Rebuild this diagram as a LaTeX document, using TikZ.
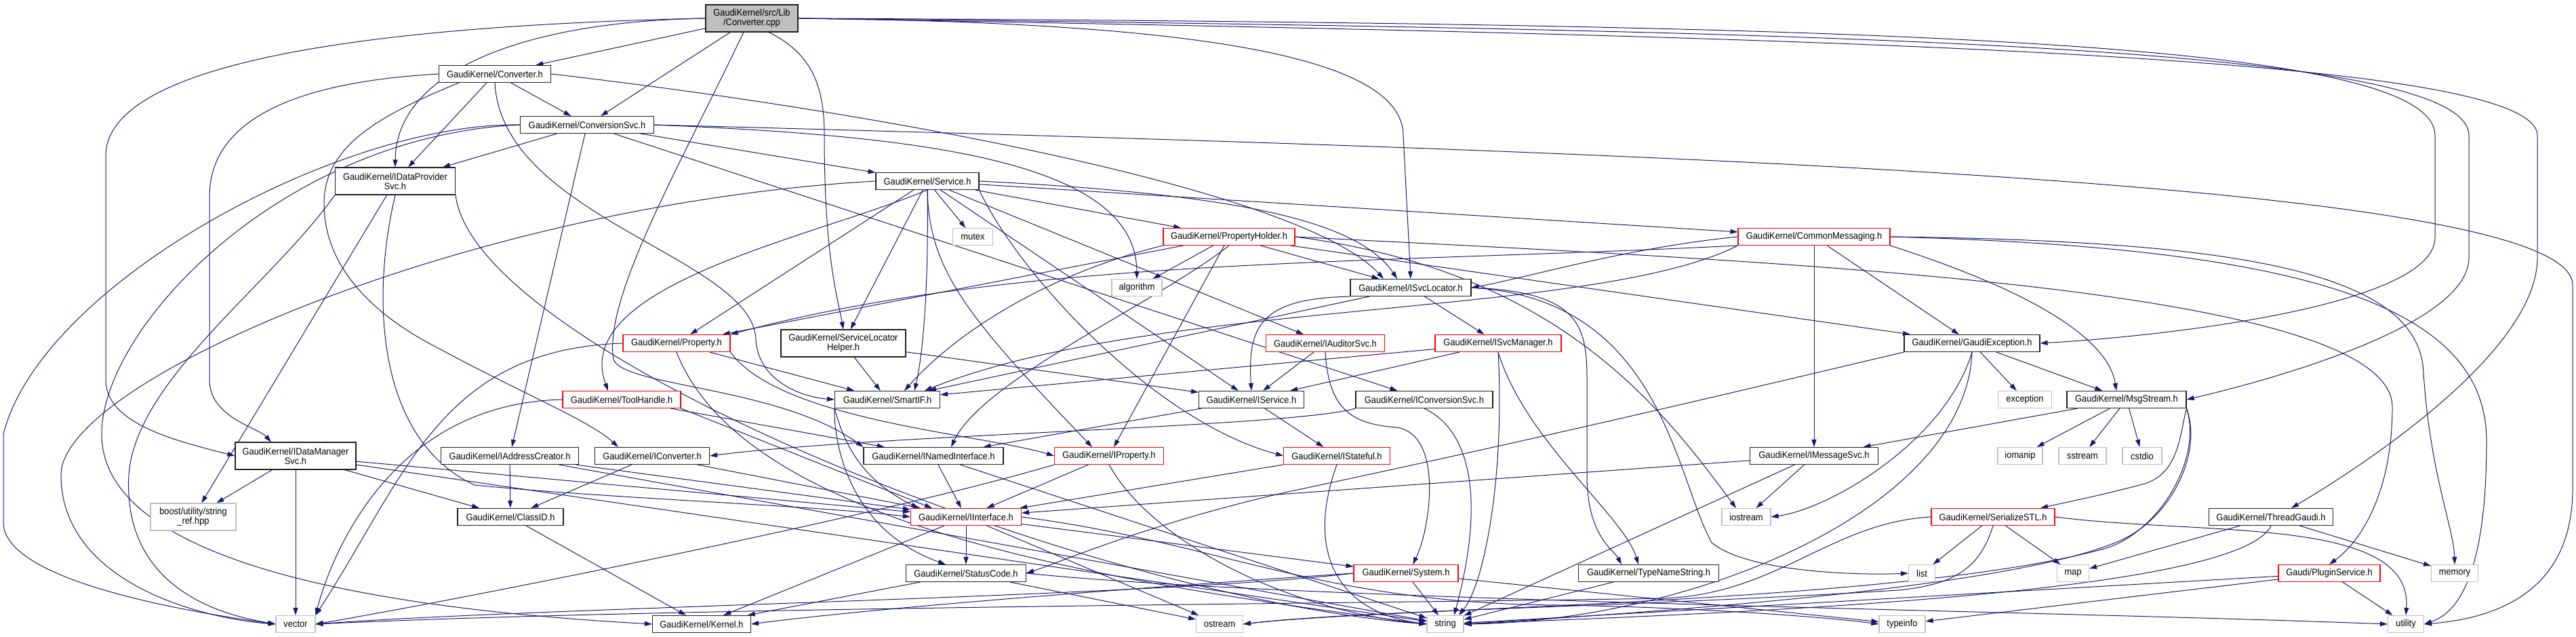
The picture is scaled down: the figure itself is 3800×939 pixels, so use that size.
\documentclass[tikz,border=0pt]{standalone}
\usepackage{fontspec}
\setmainfont{Liberation Sans}[FakeStretch=0.92]
\usetikzlibrary{arrows.meta,calc}
\definecolor{edgec}{HTML}{191970}
\definecolor{greyb}{HTML}{BFBFBF}
\definecolor{redb}{HTML}{FF0000}
\definecolor{boxk}{HTML}{202020}
\pgfdeclarelayer{bg}
\pgfsetlayers{bg,main}
\begin{document}
\begin{tikzpicture}[x=1pt,y=-1pt,
 nd/.style={rectangle,draw=boxk,line width=1.1pt,fill=white,inner sep=1pt,minimum height=25pt,align=center,font=\fontsize{14}{14}\selectfont},
 ng/.style={nd,draw=greyb},
 nr/.style={nd,draw=redb},
 nt/.style={minimum height=40pt},
 ed/.style={draw=edgec,line width=1pt,-{Triangle[length=11pt,width=7pt]}}]
\useasboundingbox (0,0) rectangle (3800,939);
% nodes
\node[nd,nt,fill=greyb,minimum width=136pt] (root) at (1109,27) {GaudiKernel/src/Lib\\/Converter.cpp};
\node[nd,minimum width=165pt] (conv) at (730,109) {GaudiKernel/Converter.h};
\node[nd,minimum width=197pt] (csvc) at (866,184) {GaudiKernel/ConversionSvc.h};
\node[nd,nt,minimum width=177pt] (idp) at (583,267) {GaudiKernel/IDataProvider\\Svc.h};
\node[nd,minimum width=152pt] (svc) at (1368,267) {GaudiKernel/Service.h};
\node[ng,minimum width=59pt] (mutex) at (1435,349) {mutex};
\node[nr,minimum width=194pt] (pholder) at (1813,349) {GaudiKernel/PropertyHolder.h};
\node[nr,minimum width=224pt] (cmsg) at (2676,349) {GaudiKernel/CommonMessaging.h};
\node[ng,minimum width=74pt] (algorithm) at (1677,424) {algorithm};
\node[nd,minimum width=178pt] (isl) at (2081,424) {GaudiKernel/ISvcLocator.h};
\node[nr,minimum width=158pt] (prop) at (998,506) {GaudiKernel/Property.h};
\node[nd,nt,minimum width=184pt] (slh) at (1244,506) {GaudiKernel/ServiceLocator\\Helper.h};
\node[nr,minimum width=175pt] (iaud) at (1955,506) {GaudiKernel/IAuditorSvc.h};
\node[nr,minimum width=186pt] (isvcm) at (2210,506) {GaudiKernel/ISvcManager.h};
\node[nd,minimum width=200pt] (gex) at (2909,506) {GaudiKernel/GaudiException.h};
\node[nr,minimum width=174pt] (toolh) at (917,589) {GaudiKernel/ToolHandle.h};
\node[nd,minimum width=155pt] (smartif) at (1309,589) {GaudiKernel/SmartIF.h};
\node[nd,minimum width=155pt] (isvc) at (1846,589) {GaudiKernel/IService.h};
\node[nd,minimum width=202pt] (iconvsvc) at (2101,589) {GaudiKernel/IConversionSvc.h};
\node[ng,minimum width=79pt] (exception) at (2987,589) {exception};
\node[nd,minimum width=176pt] (msg) at (3137,589) {GaudiKernel/MsgStream.h};
\node[nd,nt,minimum width=178pt] (idm) at (436,672) {GaudiKernel/IDataManager\\Svc.h};
\node[nd,minimum width=203pt] (iaddr) at (752,672) {GaudiKernel/IAddressCreator.h};
\node[nd,minimum width=169pt] (iconv) at (962,672) {GaudiKernel/IConverter.h};
\node[nd,minimum width=206pt] (inamed) at (1377,672) {GaudiKernel/INamedInterface.h};
\node[nr,minimum width=161pt] (iprop) at (1636,672) {GaudiKernel/IProperty.h};
\node[nr,minimum width=157pt] (istate) at (1972,672) {GaudiKernel/IStateful.h};
\node[nd,minimum width=189pt] (imsg) at (2676,672) {GaudiKernel/IMessageSvc.h};
\node[ng,minimum width=66pt] (iomanip) at (2980,672) {iomanip};
\node[ng,minimum width=70pt] (sstream) at (3072,672) {sstream};
\node[ng,minimum width=58pt] (cstdio) at (3160,672) {cstdio};
\node[ng,nt,minimum width=126pt] (boost) at (285,762) {boost/utility/string\\\_ref.hpp};
\node[nd,minimum width=156pt] (classid) at (753,762) {GaudiKernel/ClassID.h};
\node[nr,minimum width=163pt] (iinterface) at (1425,762) {GaudiKernel/IInterface.h};
\node[ng,minimum width=72pt] (iostream) at (2576,762) {iostream};
\node[nr,minimum width=182pt] (serial) at (2940,762) {GaudiKernel/SerializeSTL.h};
\node[nd,minimum width=183pt] (thr) at (3350,762) {GaudiKernel/ThreadGaudi.h};
\node[nd,minimum width=177pt] (statuscode) at (1425,845) {GaudiKernel/StatusCode.h};
\node[nr,minimum width=154pt] (system) at (2074,845) {GaudiKernel/System.h};
\node[nd,minimum width=207pt] (typename) at (2432,845) {GaudiKernel/TypeNameString.h};
\node[ng,minimum width=39pt] (list) at (2835,845) {list};
\node[ng,minimum width=47pt] (map) at (3058,845) {map};
\node[nr,minimum width=150pt] (plugin) at (3436,845) {Gaudi/PluginService.h};
\node[ng,minimum width=69pt] (memory) at (3621,845) {memory};
\node[ng,minimum width=58pt] (vector) at (436,920) {vector};
\node[nd,minimum width=145pt] (kernel) at (1035,920) {GaudiKernel/Kernel.h};
\node[ng,minimum width=69pt] (ostream) at (1799,920) {ostream};
\node[ng,minimum width=54pt] (string) at (2132,920) {string};
\node[ng,minimum width=68pt] (typeinfo) at (2806,920) {typeinfo};
\node[ng,minimum width=53pt] (utility) at (3549,920) {utility};
\begin{pgfonlayer}{bg}
\fill[white] (0,0) rectangle (3800,939);
% root
\draw[ed] (root) -- (conv);
\draw[ed] (root) -- (csvc);
\draw[ed] (root.west) .. controls (760,32) and (584,110) .. (idp.north);
\draw[ed] (root.west) .. controls (450,40) and (156,110) .. (156,230) -- (156,560) .. controls (156,625) and (260,650) .. (idm.west);
\draw[ed] ($(root.south)+(25,0)$) .. controls (1200,80) and (1216,130) .. (1216,200) .. controls (1216,380) and (1236,440) .. (slh.north);
\draw[ed] (root.east) .. controls (1750,33) and (2070,80) .. (2070,200) -- (isl.north);
\draw[ed] (root.east) .. controls (2800,35) and (3592,60) .. (3592,200) -- (3592,350) .. controls (3592,450) and (3200,495) .. (gex.east);
\draw[ed] (root.east) .. controls (2800,45) and (3642,70) .. (3642,200) -- (3642,380) .. controls (3642,480) and (3350,560) .. (msg.east);
\draw[ed] (root.east) .. controls (2800,55) and (3743,85) .. (3743,200) -- (3743,380) .. controls (3743,520) and (3480,690) .. ($(thr.north)+(30,0)$);
\draw[ed] ($(root.south)+(-12,0)$) .. controls (1000,250) and (890,440) .. (905,530) .. controls (920,570) and (1150,570) .. (inamed.north west);
% conv
\draw[ed] (conv) -- (csvc);
\draw[ed] (conv) -- (idp);
\draw[ed] (conv.west) .. controls (450,120) and (309,170) .. (309,290) -- (309,560) .. controls (309,615) and (380,630) .. ($(idm.north)+(-36,0)$);
\draw[ed] ($(conv.south west)+(30,0)$) .. controls (560,170) and (478,215) .. (478,300) .. controls (478,400) and (560,470) .. (650,515) .. controls (760,575) and (870,620) .. ($(iconv.north)+(-50,0)$);
\draw[ed] (conv.east) .. controls (1300,165) and (1920,280) .. ($(isl.north)+(-40,0)$);
\draw[ed] (conv.south) .. controls (740,320) and (1110,380) .. (1115,500) .. controls (1118,560) and (1180,585) .. (smartif.west);
% csvc
\draw[ed] (csvc) -- (idp);
\draw[ed] (csvc) -- (iaddr);
\draw[ed] (csvc) -- (svc);
\draw[ed] (csvc) -- (iconvsvc);
\draw[ed] (csvc.east) .. controls (2500,225) and (3795,270) .. (3795,420) -- (3795,720) .. controls (3795,860) and (3700,910) .. (utility.east);
\draw[ed] (csvc.east) .. controls (1350,200) and (1676,235) .. (algorithm.north);
\draw[ed] (csvc.west) .. controls (500,180) and (60,420) .. (5,640) -- (5,770) .. controls (5,860) and (300,905) .. (vector.west);
\draw[ed] (csvc.west) .. controls (420,200) and (150,480) .. (150,640) .. controls (150,860) and (700,905) .. (kernel.west);
% idp
\draw[ed] (idp) -- (boost);
\draw[ed] (idp.south) .. controls (545,450) and (560,650) .. (700,715) .. controls (900,735) and (1200,745) .. (iinterface.west);
\draw[ed] (idp.south east) .. controls (700,520) and (1600,880) .. (string.west);
\draw[ed] (idp.south west) .. controls (400,420) and (200,560) .. (190,700) .. controls (180,880) and (350,910) .. (vector.west);
% idm
\draw[ed] (idm) -- (boost);
\draw[ed] (idm) -- (vector);
\draw[ed] (idm) -- (iinterface);
\draw[ed] (idm) -- (classid);
\draw[ed] (idm) -- (string);
% svc
\draw[ed] (svc) -- (mutex);
\draw[ed] (svc) -- (pholder);
\draw[ed] (svc) -- (cmsg);
\draw[ed] (svc.south) .. controls (1200,350) and (840,420) .. ($(toolh.north)+(-20,0)$);
\draw[ed] (svc) -- (prop);
\draw[ed] (svc) -- (slh);
\draw[ed] (svc.south) .. controls (1370,420) and (1362,520) .. ($(smartif.north)+(40,0)$);
\draw[ed] (svc) -- (isvc);
\draw[ed] (svc.east) .. controls (1800,285) and (2000,320) .. ($(isl.north)+(-20,0)$);
\draw[ed] (svc) -- (iaud);
\draw[ed] (svc.south) .. controls (1370,400) and (1430,470) .. ($(iprop.north)+(-25,0)$);
\draw[ed] (svc.south east) .. controls (1500,400) and (1700,620) .. (istate.west);
\draw[ed] (svc.west) .. controls (700,300) and (90,560) .. (90,700) .. controls (90,860) and (300,912) .. (vector.west);
% pholder
\draw[ed] (pholder) -- (algorithm);
\draw[ed] (pholder) -- (prop);
\draw[ed] (pholder) -- (iprop);
\draw[ed] (pholder.south) .. controls (1700,450) and (1450,560) .. ($(inamed.north)+(26,0)$);
\draw[ed] (pholder.south west) .. controls (1560,400) and (1420,480) .. ($(smartif.north)+(25,0)$);
\draw[ed] (pholder) -- (isl);
\draw[ed] (pholder) -- (gex);
\draw[ed] (pholder.east) .. controls (2300,400) and (2450,600) .. ($(iostream.north)+(-15,0)$);
\draw[ed] (pholder.east) .. controls (2600,385) and (3529,420) .. (3529,600) .. controls (3529,730) and (3480,800) .. (plugin.north);
% cmsg
\draw[ed] (cmsg.west) .. controls (2400,365) and (2250,410) .. (isl.east);
\draw[ed] (cmsg.south west) .. controls (2000,390) and (1500,380) .. (prop.north east);
\draw[ed] (cmsg.south west) .. controls (2350,470) and (1700,440) .. ($(smartif.north)+(55,0)$);
\draw[ed] (cmsg) -- (imsg);
\draw[ed] (cmsg) -- (gex);
\draw[ed] (cmsg.south east) .. controls (3000,430) and (3110,500) .. ($(msg.north)+(-15,0)$);
\draw[ed] (cmsg.east) .. controls (3300,355) and (3570,400) .. (3575,550) .. controls (3585,700) and (3620,780) .. (memory.north);
\draw[ed] (cmsg.east) .. controls (3400,365) and (3668,450) .. (3668,650) .. controls (3668,860) and (3620,905) .. (utility.east);
% isl
\draw[ed] (isl) -- (isvcm);
\draw[ed] (isl) -- (smartif);
\draw[ed] (isl.south west) .. controls (1860,440) and (1840,480) .. (isvc.north);
\draw[ed] (isl.east) .. controls (2330,430) and (2341,480) .. (2341,560) -- (2341,700) .. controls (2341,790) and (2380,810) .. ($(typename.north)+(-40,0)$);
\draw[ed] (isl.east) .. controls (2450,440) and (2470,700) .. (2525,800) .. controls (2580,845) and (2750,848) .. (list.west);
% prop
\draw[ed] (prop.south east) .. controls (1150,620) and (1450,640) .. (iprop.west);
\draw[ed] (prop) -- (smartif);
\draw[ed] (prop.west) .. controls (650,515) and (600,700) .. (vector.north east);
\draw[ed] (prop.south) .. controls (1100,780) and (1650,860) .. (string.west);
% slh
\draw[ed] (slh) -- (smartif);
\draw[ed] (slh) -- (isvc);
% iaud
\draw[ed] (iaud) -- (isvc);
\draw[ed] (iaud.south) .. controls (1960,600) and (1990,625) .. (2060,630) .. controls (2130,640) and (2110,780) .. ($(system.north)+(10,0)$);
% isvcm
\draw[ed] (isvcm) -- (isvc);
\draw[ed] (isvcm) -- (smartif);
\draw[ed] (isvcm.south) .. controls (2250,650) and (2395,760) .. ($(typename.north)+(-15,0)$);
\draw[ed] (isvcm.south) .. controls (2220,700) and (2190,860) .. ($(string.north)+(20,0)$);
% gex
\draw[ed] (gex) -- (exception);
\draw[ed] (gex) -- (msg);
\draw[ed] (gex.south) .. controls (2870,650) and (2700,750) .. (iostream.east);
\draw[ed] (gex.south west) .. controls (2550,580) and (2300,640) .. (1900,725) .. controls (1700,770) and (1560,830) .. (statuscode.east);
\draw[ed] (gex.south) .. controls (2900,750) and (2500,915) .. (string.east);
% msg
\draw[ed] (msg) -- (imsg);
\draw[ed] (msg) -- (iomanip);
\draw[ed] (msg) -- (sstream);
\draw[ed] (msg) -- (cstdio);
\draw[ed] (msg.south east) .. controls (3215,640) and (3215,700) .. (3160,714) .. controls (3100,730) and (3050,740) .. ($(serial.north)+(70,0)$);
\draw[ed] (msg.south east) .. controls (3250,670) and (3200,770) .. (3120,800) .. controls (2950,870) and (2400,905) .. (string.east);
\draw[ed] (msg.south east) .. controls (3250,680) and (3180,790) .. (3100,810) .. controls (2800,890) and (2050,895) .. (ostream.east);
% toolh
\draw[ed] (toolh) -- (inamed);
\draw[ed] (toolh.west) .. controls (560,595) and (480,850) .. (vector.north east);
\draw[ed] (toolh.south east) .. controls (1100,640) and (1250,700) .. ($(iinterface.north)+(-50,0)$);
% smartif
\draw[ed] (smartif.south west) .. controls (1240,630) and (1255,700) .. ($(iinterface.north)+(-70,0)$);
\draw[ed] (smartif.south west) .. controls (1230,650) and (1250,780) .. ($(statuscode.north)+(-30,0)$);
% isvc
\draw[ed] (isvc) -- (inamed);
\draw[ed] (isvc) -- (istate);
% iconvsvc
\draw[ed] (iconvsvc.south west) .. controls (1900,630) and (1300,640) .. (iconv.east);
\draw[ed] (iconvsvc.south) .. controls (2180,640) and (2185,760) .. ($(string.north)+(13,0)$);
% rank 672
\draw[ed] (iaddr) -- (classid);
\draw[ed] (iaddr) -- (iinterface);
\draw[ed] (iaddr) -- (string);
\draw[ed] (iconv) -- (classid);
\draw[ed] (iconv) -- (iinterface);
\draw[ed] (inamed) -- (iinterface);
\draw[ed] (inamed) -- (string);
\draw[ed] (iprop) -- (iinterface);
\draw[ed] (iprop.south) .. controls (1700,800) and (1900,900) .. (string.west);
\draw[ed] (iprop.south west) .. controls (1300,760) and (700,880) .. (vector.east);
\draw[ed] (istate) -- (iinterface);
\draw[ed] (istate.south) .. controls (1930,800) and (1960,900) .. (string.west);
\draw[ed] (imsg) -- (iinterface);
\draw[ed] (imsg) -- (iostream);
\draw[ed] (imsg) -- (string);
% rank 762
\draw[ed] (classid) -- (kernel);
\draw[ed] (iinterface) -- (statuscode);
\draw[ed] (iinterface) -- (kernel);
\draw[ed] (iinterface) -- (system);
\draw[ed] (iinterface) -- (ostream);
\draw[ed] (iinterface.east) .. controls (1800,800) and (1950,890) .. (2300,892) .. controls (2500,895) and (2700,910) .. (typeinfo.west);
\draw[ed] (serial) -- (list);
\draw[ed] (serial) -- (map);
\draw[ed] (serial.west) .. controls (2700,770) and (2620,878) .. (2450,882) .. controls (2000,890) and (1000,895) .. (vector.east);
\draw[ed] (serial.south) .. controls (2920,840) and (2880,862) .. (2800,870) .. controls (2400,895) and (2000,900) .. (ostream.east);
\draw[ed] (serial.east) .. controls (3250,790) and (3560,760) .. (utility.north);
\draw[ed] (thr) -- (map);
\draw[ed] (thr) -- (memory);
\draw[ed] (thr.south) .. controls (3300,880) and (2500,905) .. (string.east);
% rank 845
\draw[ed] (statuscode) -- (kernel);
\draw[ed] (statuscode) -- (ostream);
\draw[ed] (statuscode.east) .. controls (1900,885) and (3000,900) .. (utility.west);
\draw[ed] (system) -- (string);
\draw[ed] (system.west) .. controls (1700,865) and (1300,895) .. (kernel.east);
\draw[ed] (system.west) .. controls (1700,880) and (800,895) .. (vector.east);
\draw[ed] (system) -- (typeinfo);
\draw[ed] (typename) -- (string);
\draw[ed] (plugin) -- (utility);
\draw[ed] (plugin) -- (typeinfo);
\draw[ed] (plugin) -- (string);
\end{pgfonlayer}
\end{tikzpicture}
\end{document}
